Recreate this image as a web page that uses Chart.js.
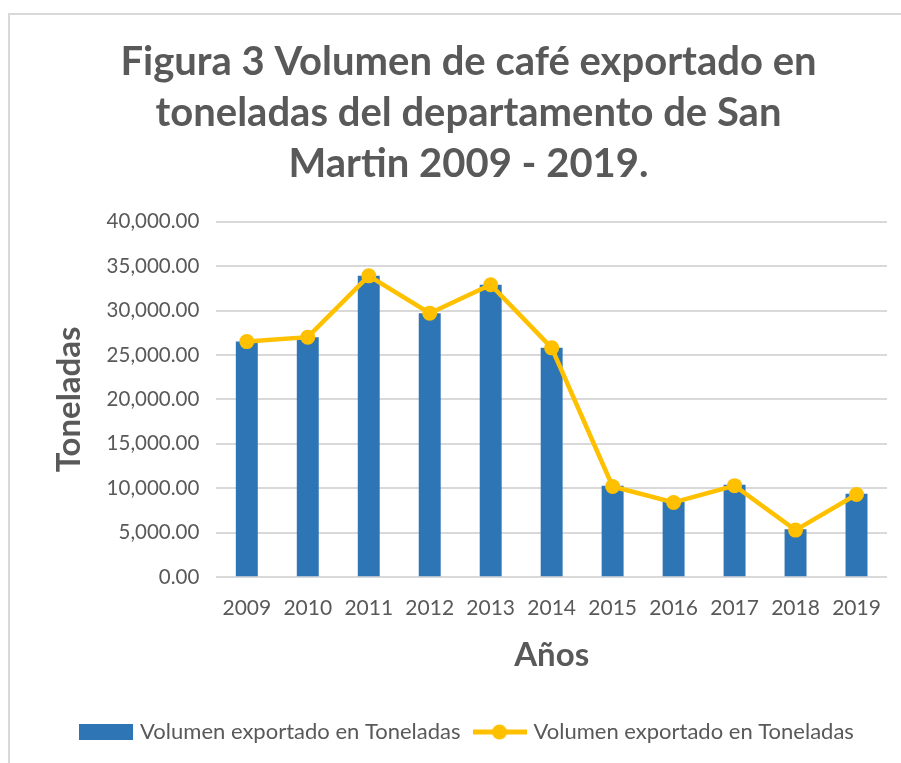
<!DOCTYPE html>
<html>
<head>
<meta charset="utf-8">
<script src="https://cdn.jsdelivr.net/npm/chart.js@4"></script>
<style>
  html, body { margin: 0; padding: 0; overflow: hidden; background: #fff; }
  #frame { position: absolute; left: 8px; top: 13px; width: 1000px; height: 1000px; border: 2px solid #d9d9d9; }
  #wrap { position: absolute; left: 0; top: 0; width: 901px; height: 763px; }
</style>
</head>
<body>
<div id="frame"></div>
<div id="wrap"><canvas id="chart"></canvas></div>
<script>
const years = ['2009', '2010', '2011', '2012', '2013', '2014', '2015', '2016', '2017', '2018', '2019'];
const barValues = [26500, 27000, 33900, 29700, 32900, 25800, 10300, 8500, 10400, 5400, 9400];
const lineValues = [26500, 27000, 33900, 29700, 32900, 25800, 10200, 8400, 10300, 5300, 9300];
const titleLines = ['Figura 3 Volumen de café exportado en', 'toneladas del departamento de San', 'Martin 2009 - 2019.'];
const seriesName = 'Volumen exportado en Toneladas';

const grey = '#595959';
const blue = '#2E75B6';
const gold = '#FFC000';

// little pictures for the legend keys
function barKey() {
    const c = document.createElement('canvas');
    c.width = 54; c.height = 16;
    const g = c.getContext('2d');
    g.fillStyle = blue;
    g.fillRect(0, 0, 54, 16);
    return c;
}
function lineKey() {
    const c = document.createElement('canvas');
    c.width = 54; c.height = 16;
    const g = c.getContext('2d');
    g.strokeStyle = gold;
    g.lineWidth = 5;
    g.beginPath(); g.moveTo(0, 8); g.lineTo(54, 8); g.stroke();
    g.fillStyle = gold;
    g.beginPath(); g.arc(27, 8, 7.5, 0, Math.PI * 2); g.fill();
    return c;
}

Chart.defaults.font.family = 'Lato, "Open Sans", sans-serif';
Chart.defaults.color = grey;

new Chart(document.getElementById('chart'), {
    data: {
        labels: years,
        datasets: [
            {
                type: 'line',
                label: seriesName,
                data: lineValues,
                borderColor: gold,
                backgroundColor: gold,
                borderWidth: 4.5,
                pointRadius: 7.5,
                pointHoverRadius: 7.5,
                pointBackgroundColor: gold,
                pointBorderWidth: 0,
                tension: 0,
                order: 1
            },
            {
                type: 'bar',
                label: seriesName,
                data: barValues,
                backgroundColor: blue,
                barPercentage: 0.36,
                categoryPercentage: 1,
                order: 2
            }
        ]
    },
    options: {
        responsive: true,
        maintainAspectRatio: false,
        animation: false,
        layout: { padding: { left: 50, right: 14, top: 36, bottom: 10 } },
        plugins: {
            title: {
                display: true,
                text: titleLines,
                color: grey,
                font: { size: 40, weight: 'bold', lineHeight: 1.28 },
                padding: { top: 0, bottom: 32 }
            },
            legend: {
                position: 'bottom',
                labels: {
                    usePointStyle: true,
                    pointStyleWidth: 46,
                    padding: 16,
                    color: grey,
                    font: { size: 22 },
                    generateLabels: function (chart) {
                        return [
                            { text: seriesName, pointStyle: barKey(), datasetIndex: 1, fillStyle: blue, strokeStyle: blue, lineWidth: 0, fontColor: grey },
                            { text: seriesName, pointStyle: lineKey(), datasetIndex: 0, fillStyle: gold, strokeStyle: gold, lineWidth: 0, fontColor: grey }
                        ];
                    }
                }
            },
            tooltip: { enabled: false }
        },
        scales: {
            x: {
                grid: { display: false },
                border: { display: false },
                ticks: { color: grey, font: { size: 21 }, padding: 10 },
                title: {
                    display: true,
                    text: 'Años',
                    color: grey,
                    font: { size: 33, weight: 'bold' },
                    padding: { top: 5, bottom: 30 }
                }
            },
            y: {
                min: 0,
                max: 40000,
                ticks: {
                    stepSize: 5000,
                    color: grey,
                    font: { size: 20.5 },
                    padding: 17,
                    callback: function (v) {
                        return v.toLocaleString('en-US', { minimumFractionDigits: 2, maximumFractionDigits: 2 });
                    }
                },
                grid: { color: '#d9d9d9', lineWidth: 2, drawTicks: false },
                border: { display: false },
                title: {
                    display: true,
                    text: 'Toneladas',
                    color: grey,
                    font: { size: 33, weight: 'bold' },
                    padding: { top: 0, bottom: 0 }
                }
            }
        }
    }
});
</script>
</body>
</html>
